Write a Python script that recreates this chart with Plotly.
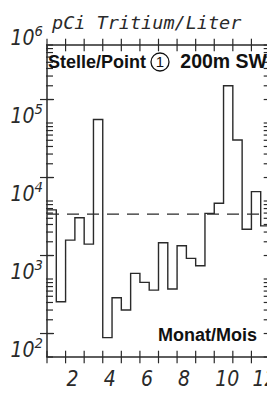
import plotly.graph_objects as go

# Half-monthly tritium concentrations (pCi/L), 24 sampling periods
period_start = [1 + 0.5 * i for i in range(24)]
tritium = [7700, 510, 3150, 6100, 2800, 111000, 177, 575, 400, 1180, 905, 720,
           2920, 745, 2670, 1840, 1480, 6950, 9350, 300000, 60500, 4350, 13200, 4800]
reference_level = 6800
month_ticks = list(range(1, 14))
month_labels = [2, 4, 6, 8, 10, 12]
decade_exponents = [2, 3, 4, 5, 6]
x_range = [1, 13]
y_range = [1e2, 1e6]

INK = "#2a2a2a"
PLOT_FONT = "Liberation Sans Narrow, DejaVu Sans Condensed, DejaVu Sans"
MONO = "DejaVu Sans Mono"
BOLD = "Liberation Sans, Arial"

# geometry: the frame is 223 x 312 px; figure 267 x 380 (page body adds an 8px margin)
W, H = 267, 380
FRAME_L, FRAME_R, FRAME_T, FRAME_B = 39, 5, 37, 31
PX_MONTH = (W - FRAME_L - FRAME_R) / (x_range[1] - x_range[0])
PX_DECADE = (H - FRAME_T - FRAME_B) / 4.0
full_x = [x_range[0] - FRAME_L / PX_MONTH, x_range[1] + FRAME_R / PX_MONTH]
full_y = [2 - FRAME_B / PX_DECADE, 6 + FRAME_T / PX_DECADE]


def dx(px):
    return px / PX_MONTH


def ylog(exp, px):  # value at a decade exponent shifted by px pixels (up positive)
    return 10 ** (exp + px / PX_DECADE)


step_x = period_start + [x_range[1]]
step_y = tritium + [tritium[-1]]

fig = go.Figure()
# frame
fig.add_trace(go.Scatter(x=[x_range[0], x_range[1], x_range[1], x_range[0], x_range[0]],
                         y=[y_range[0], y_range[0], y_range[1], y_range[1], y_range[0]],
                         mode="lines", line=dict(color=INK, width=1.5)))
fig.add_trace(go.Scatter(x=x_range, y=[reference_level, reference_level], mode="lines",
                         line=dict(color=INK, width=1.3, dash="12px,8px")))
fig.add_trace(go.Scatter(x=step_x, y=step_y, mode="lines", line_shape="hv",
                         line=dict(color=INK, width=1.4)))

tick_mark = dict(color=INK, width=1.2)
fig.add_trace(go.Scatter(x=month_ticks * 2,
                         y=[y_range[0]] * len(month_ticks) + [y_range[1]] * len(month_ticks),
                         mode="markers", marker=dict(symbol="line-ns", size=9, line=tick_mark)))
log_ticks = [k * 10 ** n for n in range(2, 6) for k in range(1, 10)] + [1e6]
fig.add_trace(go.Scatter(x=[x_range[0] + dx(2.5)] * len(log_ticks), y=log_ticks,
                         mode="markers", marker=dict(symbol="line-ew", size=5, line=tick_mark)))
fig.add_trace(go.Scatter(x=[x_range[1]] * len(log_ticks), y=log_ticks,
                         mode="markers", marker=dict(symbol="line-ew", size=9, line=tick_mark)))
long_ticks = [2 * 10 ** n for n in range(2, 6)]
fig.add_trace(go.Scatter(x=[x_range[0]] * len(long_ticks), y=long_ticks,
                         mode="markers", marker=dict(symbol="line-ew", size=10, line=tick_mark)))

# decade labels (baseline on the tick)
fig.add_trace(go.Scatter(x=[x_range[0] - dx(4)] * len(decade_exponents),
                         y=[ylog(n, -5.25) for n in decade_exponents],
                         mode="text", textposition="top left",
                         text=[f"<i>10<sup>{n}</sup></i>" for n in decade_exponents],
                         textfont=dict(family=PLOT_FONT, size=21, color=INK)))
# month labels, starting at their tick
fig.add_trace(go.Scatter(x=[m + dx(1) for m in month_labels],
                         y=[ylog(2, -13)] * len(month_labels),
                         mode="text", textposition="bottom right",
                         text=[f"<i>{m}</i>" for m in month_labels],
                         textfont=dict(family=PLOT_FONT, size=21, color=INK)))
# title and inner texts
fig.add_trace(go.Scatter(x=[x_range[0] + dx(5)], y=[ylog(6, 20.6)], mode="text",
                         textposition="middle right", text=["<i>pCi Tritium/Liter</i>"],
                         textfont=dict(family=MONO, size=18.5, color=INK)))
header_y = ylog(6, -18.5)
fig.add_trace(go.Scatter(x=[x_range[0] + dx(1)], y=[header_y], mode="text",
                         textposition="middle right", text=["<b>Stelle/Point</b>"],
                         textfont=dict(family=BOLD, size=18, color="#111")))
circle_x = x_range[0] + dx(113)
fig.add_trace(go.Scatter(x=[circle_x], y=[header_y], mode="text",
                         textposition="middle center", text=["1"],
                         textfont=dict(family=BOLD, size=15, color="#111")))
fig.add_trace(go.Scatter(x=[x_range[1] - dx(3)], y=[header_y], mode="text",
                         textposition="middle left", text=["<b>200m SW</b>"],
                         textfont=dict(family=BOLD, size=19.5, color="#111")))
fig.add_trace(go.Scatter(x=[x_range[1] - dx(13)], y=[ylog(2, 21)], mode="text",
                         textposition="middle left", text=["<b>Monat/Mois</b>"],
                         textfont=dict(family=BOLD, size=18, color="#111")))

fig.update_layout(
    width=W, height=H, showlegend=False,
    margin=dict(l=0, r=0, t=0, b=0, pad=0),
    paper_bgcolor="white", plot_bgcolor="white",
    xaxis=dict(range=full_x, visible=False),
    yaxis=dict(type="log", range=full_y, visible=False),
)

# circle around the point number (paper units = whole figure here)
cx = (FRAME_L + 113) / W
cy = 1 - (FRAME_T + 17) / H
fig.add_shape(type="circle", xref="paper", yref="paper",
              x0=cx - 9 / W, x1=cx + 9 / W, y0=cy - 9 / H, y1=cy + 9 / H,
              line=dict(color="#111", width=1.3))

fig.write_html("out.html")
